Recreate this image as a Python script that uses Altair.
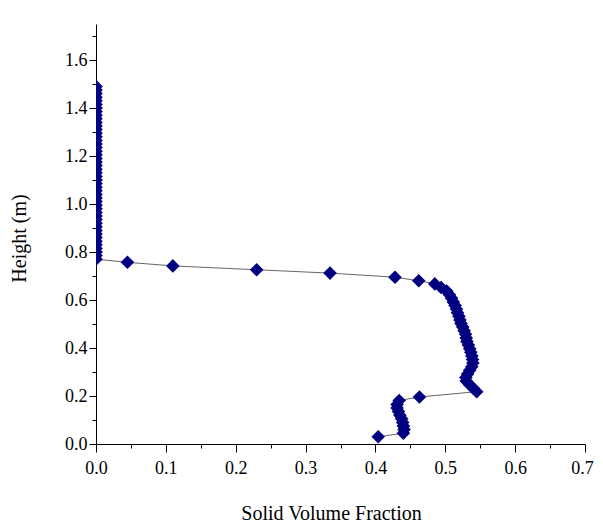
import altair as alt
import pandas as pd

# Lower profile (bottom to top)
curve_fraction = [0.404, 0.440, 0.441, 0.440, 0.439, 0.4375, 0.435, 0.433, 0.431, 0.431,
                  0.434, 0.463, 0.545, 0.540, 0.535, 0.530, 0.5295, 0.532, 0.535, 0.538,
                  0.5395, 0.539, 0.538, 0.5365, 0.535, 0.533, 0.531, 0.530, 0.529, 0.527,
                  0.525, 0.5225, 0.521, 0.5195, 0.5175, 0.516, 0.514, 0.5115, 0.509, 0.506,
                  0.502, 0.494, 0.485, 0.462, 0.428, 0.335, 0.230, 0.110, 0.045, 0.0]
curve_height = [0.030, 0.045, 0.060, 0.075, 0.090, 0.105, 0.120, 0.135, 0.150, 0.165,
                0.181, 0.196, 0.218, 0.232, 0.247, 0.262, 0.277, 0.292, 0.307, 0.322,
                0.337, 0.352, 0.367, 0.382, 0.397, 0.412, 0.427, 0.442, 0.457, 0.472,
                0.487, 0.502, 0.517, 0.532, 0.547, 0.562, 0.577, 0.592, 0.607, 0.622,
                0.637, 0.652, 0.667, 0.680, 0.695, 0.712, 0.726, 0.742, 0.757, 0.770]

# Upper column (freeboard, zero solids)
column_fraction = [0.0, 0.0, 0.0, 0.0, 0.0, 0.0, 0.0, 0.0, 0.0, 0.0, 0.0, 0.0,
                   0.0, 0.0, 0.0, 0.0, 0.0, 0.0, 0.0, 0.0, 0.0, 0.0, 0.0, 0.0,
                   0.0, 0.0, 0.0, 0.0, 0.0, 0.0, 0.0, 0.0, 0.0, 0.0, 0.0, 0.0,
                   0.0, 0.0, 0.0, 0.0, 0.0, 0.0, 0.0, 0.0, 0.0, 0.0, 0.0, 0.0]
column_height = [0.785, 0.800, 0.815, 0.830, 0.845, 0.860, 0.875, 0.890, 0.905, 0.920,
                 0.935, 0.950, 0.965, 0.980, 0.995, 1.010, 1.025, 1.040, 1.055, 1.070,
                 1.085, 1.100, 1.115, 1.130, 1.145, 1.160, 1.175, 1.190, 1.205, 1.220,
                 1.235, 1.250, 1.265, 1.280, 1.295, 1.310, 1.325, 1.340, 1.355, 1.370,
                 1.385, 1.400, 1.415, 1.430, 1.445, 1.460, 1.475, 1.490]

x_ticks = [0.0, 0.05, 0.1, 0.15, 0.2, 0.25, 0.3, 0.35, 0.4, 0.45, 0.5, 0.55, 0.6, 0.65, 0.7]
y_ticks = [0.0, 0.1, 0.2, 0.3, 0.4, 0.5, 0.6, 0.7, 0.8, 0.9, 1.0, 1.1, 1.2, 1.3, 1.4,
           1.5, 1.6, 1.7]

fraction = curve_fraction + column_fraction
height = curve_height + column_height
df = pd.DataFrame({"fraction": fraction, "height": height,
                   "idx": list(range(len(fraction)))})

FONT = "Liberation Serif"
LABEL_SIZE = 18
major_x = "abs(datum.value*10 - round(datum.value*10)) < 0.001"
major_y = "abs(datum.value*5 - round(datum.value*5)) < 0.001"

x_axis = alt.Axis(
    values=x_ticks,
    title="Solid Volume Fraction",
    labelExpr=f"{major_x} ? format(datum.value, '.1f') : ''",
    tickSize={"condition": {"test": major_x, "value": 8}, "value": 4},
    labelOffset={"condition": {"test": "datum.value > 0.69", "value": -3}, "value": 0},
    labelPadding=7,
    labelFont=FONT,
    labelFontSize=LABEL_SIZE,
    labelColor="black",
    titleFont=FONT,
    titleFontSize=20,
    titleFontWeight="normal",
    titleColor="black",
    titleX=235,
    titleY=75,
    titleBaseline="alphabetic",
    titleAlign="center",
    grid=False,
    labelFlush=False,
    labelOverlap=False,
)
y_axis = alt.Axis(
    values=y_ticks,
    title="Height (m)",
    labelExpr=f"{major_y} ? format(datum.value, '.1f') : ''",
    tickSize={"condition": {"test": major_y, "value": 7}, "value": 4},
    labelPadding=2,
    labelFont=FONT,
    labelFontSize=LABEL_SIZE,
    labelColor="black",
    titleFont=FONT,
    titleFontSize=20,
    titleFontWeight="normal",
    titleColor="black",
    titleAngle=270,
    titleX=-71,
    titleY=214,
    titleBaseline="alphabetic",
    titleAlign="center",
    grid=False,
    labelFlush=False,
    labelOverlap=False,
)

x_enc = alt.X("fraction:Q", scale=alt.Scale(domain=[0, 0.7], nice=False, zero=False), axis=x_axis)
y_enc = alt.Y("height:Q", scale=alt.Scale(domain=[0, 1.75], nice=False, zero=False), axis=y_axis)

base = alt.Chart(df)
line = base.mark_line(color="#666666", strokeWidth=1, clip=True).encode(
    x=x_enc, y=y_enc, order="idx:Q"
)
points = base.mark_point(shape="diamond", filled=True, size=185, color="#000080",
                         opacity=1, clip=True).encode(x=x_enc, y=y_enc)

chart = (
    alt.layer(line, points)
    .properties(
        width=489,
        height=420,
        autosize=alt.AutoSizeParams(type="none"),
        padding={"left": 88, "top": 16, "right": 10, "bottom": 80},
        background="white",
    )
    .configure_view(stroke=None)
    .configure_axis(
        labelFont=FONT,
        titleFont=FONT,
        labelFontSize=LABEL_SIZE,
        labelColor="black",
        titleColor="black",
        domainColor="black",
        tickColor="black",
        domainWidth=1,
        tickWidth=1,
    )
)

chart.save("out.html", embed_options={"renderer": "svg", "actions": False})
